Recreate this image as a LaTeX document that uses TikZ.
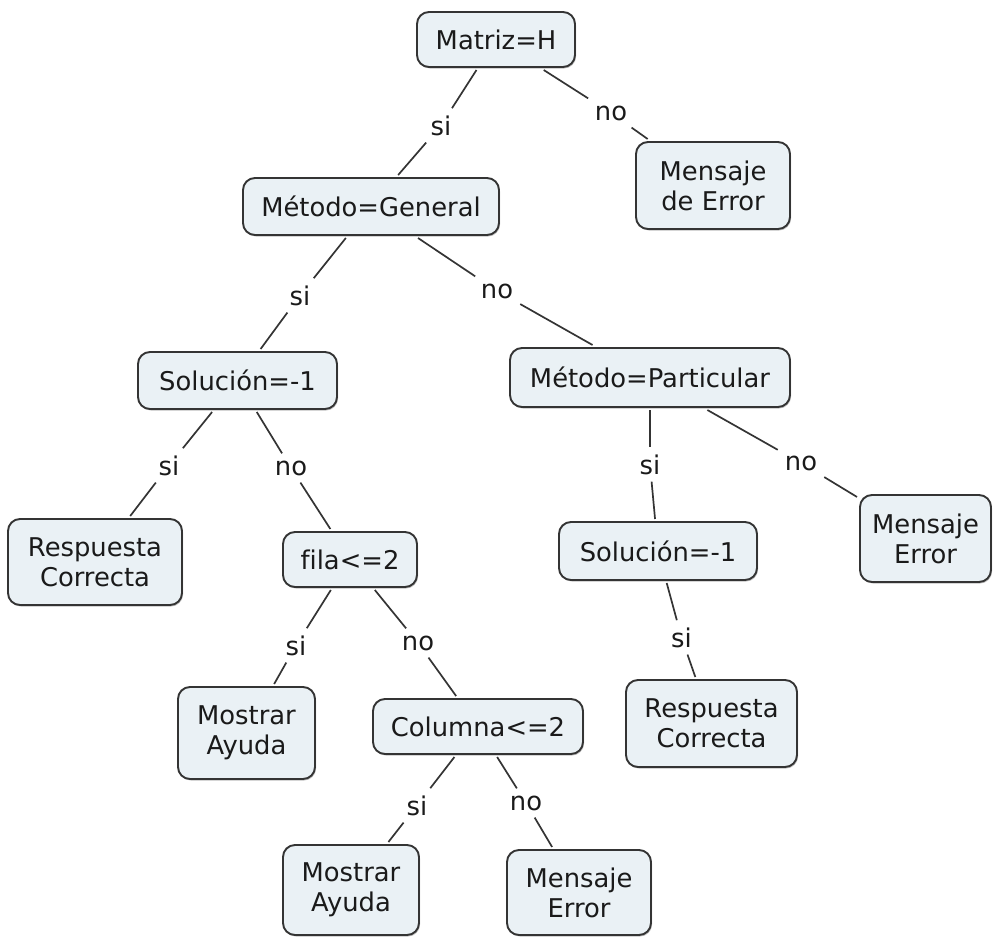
\documentclass[tikz,border=0pt]{standalone}
\usepackage{fontspec}
\setmainfont[Ligatures=NoCommon]{DejaVu Sans}
\usetikzlibrary{shadows}
\definecolor{boxfill}{RGB}{234,241,245}
\definecolor{edgecol}{RGB}{52,52,52}
\definecolor{ink}{RGB}{26,26,26}
\begin{document}
\begin{tikzpicture}[x=1pt,y=-1pt,
  concept/.style={draw=edgecol, fill=boxfill, rounded corners=12pt, line width=1.9pt,
    text=ink, align=center, inner sep=0pt, outer sep=3pt,
    font=\fontsize{25.8}{30}\selectfont,
    drop shadow={shadow xshift=1pt, shadow yshift=-1.5pt, opacity=0.25, fill=black}},
  lbl/.style={text=ink, inner sep=7pt, anchor=base, font=\fontsize{25.8}{30}\selectfont},
  link/.style={draw=edgecol, line width=1.7pt}]
\useasboundingbox (0,0) rectangle (993,937);

% decision boxes
\node[concept, minimum width=158pt, minimum height=55pt] (mat)  at (496,39.5)  {Matriz=H};
\node[concept, minimum width=154pt, minimum height=87pt] (err1) at (713,185.5) {Mensaje\\de Error};
\node[concept, minimum width=256pt, minimum height=57pt] (mg)   at (371,206.5) {Método=General};
\node[concept, minimum width=199pt, minimum height=57pt] (sol1) at (237.5,380.5) {Solución=-1};
\node[concept, minimum width=280pt, minimum height=59pt] (mp)   at (650,377.5) {Método=Particular};
\node[concept, minimum width=174pt, minimum height=86pt] (rc1)  at (95,562)    {Respuesta\\Correcta};
\node[concept, minimum width=134pt, minimum height=55pt] (fila) at (350,559.5) {fila<=2};
\node[concept, minimum width=198pt, minimum height=58pt] (sol2) at (658,551)   {Solución=-1};
\node[concept, minimum width=131pt, minimum height=87pt] (err2) at (925.5,538.5) {Mensaje\\Error};
\node[concept, minimum width=137pt, minimum height=92pt] (ma1)  at (246.5,733) {Mostrar\\Ayuda};
\node[concept, minimum width=210pt, minimum height=55pt] (col)  at (478,726.5) {Columna<=2};
\node[concept, minimum width=171pt, minimum height=87pt] (rc2)  at (711.5,723.5) {Respuesta\\Correcta};
\node[concept, minimum width=136pt, minimum height=90pt] (ma2)  at (351,890)   {Mostrar\\Ayuda};
\node[concept, minimum width=144pt, minimum height=85pt] (err3) at (579,892.5) {Mensaje\\Error};

% branch labels
\node[lbl] (l1)  at (441,135)   {si};
\node[lbl] (l2)  at (611,120)   {no};
\node[lbl] (l3)  at (300,305)   {si};
\node[lbl] (l4)  at (497,298)   {no};
\node[lbl] (l5)  at (169,475)   {si};
\node[lbl] (l6)  at (291,475)   {no};
\node[lbl] (l7)  at (650,474)   {si};
\node[lbl] (l8)  at (801,470)   {no};
\node[lbl] (l9)  at (296,655)   {si};
\node[lbl] (l10) at (418,650)   {no};
\node[lbl] (l11) at (681.5,647) {si};
\node[lbl] (l12) at (417,815)   {si};
\node[lbl] (l13) at (526,810)   {no};

% connectors
\draw[link] (mat) -- (l1);  \draw[link] (l1) -- (mg);
\draw[link] (mat) -- (l2);  \draw[link] (l2) -- (err1);
\draw[link] (mg) -- (l3);   \draw[link] (l3) -- (sol1);
\draw[link] (mg) -- (l4);   \draw[link] (l4) -- (mp);
\draw[link] (sol1) -- (l5); \draw[link] (l5) -- (rc1);
\draw[link] (sol1) -- (l6); \draw[link] (l6) -- (fila);
\draw[link] (mp) -- (l7);   \draw[link] (l7) -- (sol2);
\draw[link] (mp) -- (l8);   \draw[link] (l8) -- (err2);
\draw[link] (fila) -- (l9); \draw[link] (l9) -- (ma1);
\draw[link] (fila) -- (l10);\draw[link] (l10) -- (col);
\draw[link] (sol2) -- (l11);\draw[link] (l11) -- (rc2);
\draw[link] (col) -- (l12); \draw[link] (l12) -- (ma2);
\draw[link] (col) -- (l13); \draw[link] (l13) -- (err3);
\end{tikzpicture}
\end{document}
